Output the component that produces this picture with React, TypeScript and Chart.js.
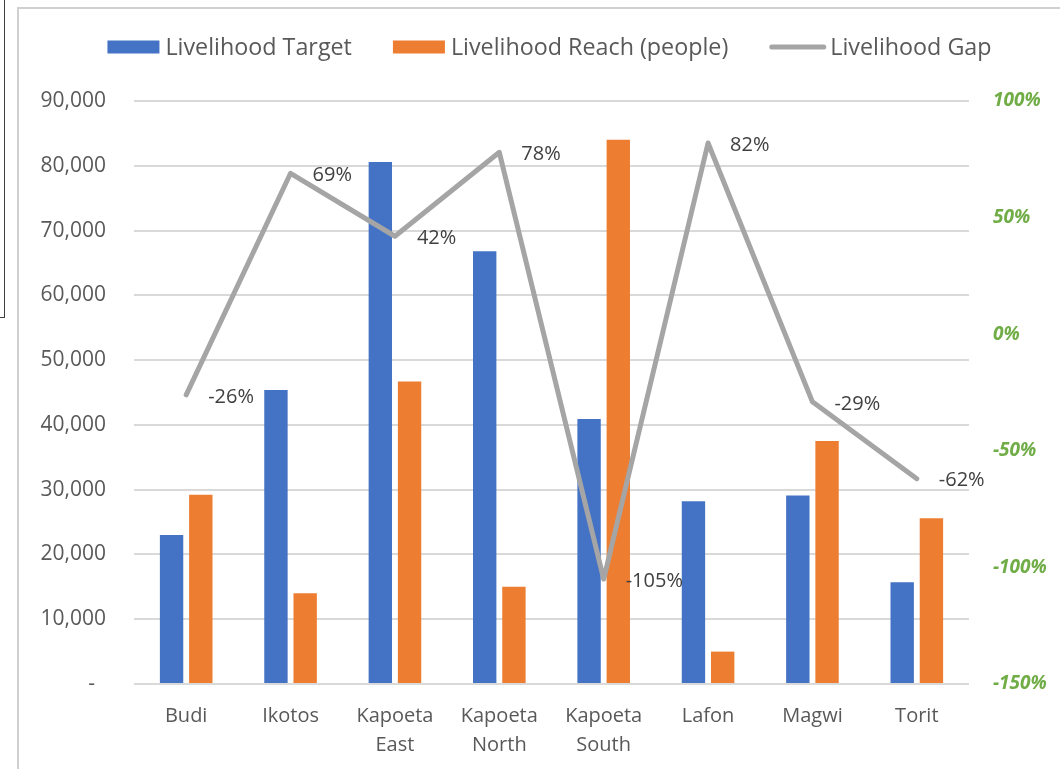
import React, { useEffect, useRef } from "react";
import { Chart, registerables } from "chart.js";

Chart.register(...registerables);

const categories: (string | string[])[] = [
  "Budi",
  "Ikotos",
  ["Kapoeta", "East"],
  ["Kapoeta", "North"],
  ["Kapoeta", "South"],
  "Lafon",
  "Magwi",
  "Torit",
];
const livelihoodTarget = [23000, 45400, 80600, 66800, 40900, 28200, 29100, 15700];
const livelihoodReach = [29200, 14000, 46700, 15000, 84000, 5000, 37500, 25600];
const livelihoodGap = [-26, 69, 42, 78, -105, 82, -29, -62];
const seriesNames = ["Livelihood Target", "Livelihood Reach (people)", "Livelihood Gap"];

const FONT = "'Open Sans', 'DejaVu Sans', sans-serif";
const BLUE = "#4472C4";
const ORANGE = "#ED7D31";
const GRAY = "#A5A5A5";
const GREEN = "#70AD47";
const TEXT = "#595959";

const legendPlugin = {
  id: "customLegend",
  afterDraw(chart: any) {
    const ctx = chart.ctx;
    ctx.save();
    ctx.font = `23.3px ${FONT}`;
    ctx.textBaseline = "middle";
    ctx.textAlign = "left";
    const cy = 47;
    const items = chart.data.datasets.map((ds: any) => {
      const isLine = ds.type === "line";
      const sw = isLine ? 57 : 52;
      const gap = isLine ? 4 : 6;
      const tw = ctx.measureText(ds.label).width;
      return { ds, isLine, sw, gap, tw, w: sw + gap + tw };
    });
    const spacing = 41;
    const total = items.reduce((s: number, it: any) => s + it.w, 0) + spacing * (items.length - 1);
    let x = 549.5 - total / 2;
    for (const it of items) {
      if (it.isLine) {
        ctx.strokeStyle = it.ds.borderColor;
        ctx.lineWidth = 5;
        ctx.lineCap = "round";
        ctx.beginPath();
        ctx.moveTo(x + 2.5, cy);
        ctx.lineTo(x + it.sw - 2.5, cy);
        ctx.stroke();
      } else {
        ctx.fillStyle = it.ds.backgroundColor;
        ctx.fillRect(x, cy - 6.5, it.sw, 13);
      }
      ctx.fillStyle = TEXT;
      ctx.fillText(it.ds.label, x + it.sw + it.gap, cy + 1);
      x += it.w + spacing;
    }
    ctx.restore();
  },
};

const labelPlugin = {
  id: "gapLabels",
  afterDatasetsDraw(chart: any) {
    const ctx = chart.ctx;
    const meta = chart.getDatasetMeta(2);
    ctx.save();
    ctx.font = `20px ${FONT}`;
    ctx.fillStyle = "#404040";
    ctx.textAlign = "left";
    ctx.textBaseline = "middle";
    meta.data.forEach((pt: any, i: number) => {
      ctx.fillText(`${livelihoodGap[i]}%`, pt.x + 22, pt.y + 2);
    });
    ctx.restore();
  },
};

export default function App() {
  const ref = useRef<HTMLCanvasElement>(null);
  useEffect(() => {
    if (!ref.current) return;
    const chart = new Chart(ref.current, {
      type: "bar",
      data: {
        labels: categories,
        datasets: [
          {
            type: "bar",
            label: seriesNames[0],
            data: livelihoodTarget,
            backgroundColor: BLUE,
            yAxisID: "y",
            order: 2,
            categoryPercentage: 0.56,
            barPercentage: 0.8,
          },
          {
            type: "bar",
            label: seriesNames[1],
            data: livelihoodReach,
            backgroundColor: ORANGE,
            yAxisID: "y",
            order: 2,
            categoryPercentage: 0.56,
            barPercentage: 0.8,
          },
          {
            type: "line",
            label: seriesNames[2],
            data: livelihoodGap,
            borderColor: GRAY,
            backgroundColor: GRAY,
            borderWidth: 5,
            pointRadius: 0,
            tension: 0,
            borderJoinStyle: "round",
            borderCapStyle: "round",
            yAxisID: "y1",
            order: 0,
          } as any,
        ],
      },
      options: {
        responsive: false,
        animation: false,
        devicePixelRatio: 1,
        layout: { padding: { top: 101, left: 0, right: 0, bottom: 0 } },
        plugins: {
          legend: { display: false },
          tooltip: { enabled: false },
        },
        scales: {
          x: {
            grid: { display: false, drawTicks: false },
            border: { display: false },
            ticks: {
              color: TEXT,
              font: { family: FONT, size: 20, lineHeight: 1.45 },
              padding: 18,
              maxRotation: 0,
              autoSkip: false,
            },
            afterFit: (s: any) => {
              s.height = 85;
            },
          },
          y: {
            position: "left",
            min: 0,
            max: 90000,
            grid: { color: "#D9D9D9", lineWidth: 2, drawTicks: false },
            border: { display: false },
            ticks: {
              stepSize: 10000,
              color: TEXT,
              font: { family: FONT, size: 21 },
              padding: 28,
              callback: (v: any) => (Number(v) === 0 ? "-  " : Number(v).toLocaleString("en-US")),
            },
            afterFit: (s: any) => {
              s.width = 134;
            },
          },
          y1: {
            position: "right",
            min: -150,
            max: 100,
            grid: { display: false, drawTicks: false },
            border: { display: false },
            ticks: {
              stepSize: 50,
              color: GREEN,
              font: { family: FONT, size: 19, weight: "bold", style: "italic" },
              padding: 24,
              callback: (v: any) => `${v}%`,
            },
            afterFit: (s: any) => {
              s.width = 91;
            },
          },
        },
      },
      plugins: [legendPlugin, labelPlugin],
    });
    return () => chart.destroy();
  }, []);

  return (
    <div style={{ position: "absolute", left: 0, top: 0, width: 1060, height: 769, overflow: "hidden", background: "#fff" }}>
      <div
        style={{
          position: "absolute",
          left: 17,
          top: 7,
          width: 1100,
          height: 800,
          borderLeft: "2px solid #D0D0D0",
          borderTop: "2px solid #D0D0D0",
          boxSizing: "border-box",
        }}
      />
      <div
        style={{
          position: "absolute",
          left: -10,
          top: -10,
          width: 15,
          height: 328,
          border: "1px solid #404040",
          boxSizing: "border-box",
        }}
      />
      <canvas ref={ref} width={1060} height={769} style={{ position: "absolute", left: 0, top: 0, width: 1060, height: 769 }} />
    </div>
  );
}
